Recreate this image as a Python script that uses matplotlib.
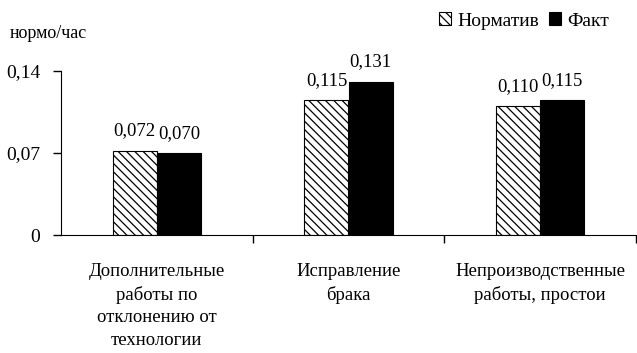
import matplotlib.pyplot as plt
import numpy as np

FONT = 'Liberation Serif'
plt.rcParams['font.family'] = [FONT, 'DejaVu Serif']
plt.rcParams['hatch.linewidth'] = 0.9

# data
categories = ['Дополнительные\nработы по\nотклонению от\nтехнологии',
              'Исправление\nбрака',
              'Непроизводственные\nработы, простои']
normativ = [0.072, 0.115, 0.110]
fakt = [0.070, 0.131, 0.115]
norm_labels = ['0,072', '0,115', '0,110']
fakt_labels = ['0,070', '0,131', '0,115']
series_names = ['Норматив', 'Факт']
y_ticks = [0, 0.07, 0.14]
y_tick_labels = ['0', '0,07', '0,14']

fig = plt.figure(figsize=(6.37, 3.53), dpi=100)
ax = fig.add_axes([61 / 637, 1 - 235 / 353, 575 / 637, 164 / 353])

x = np.arange(len(categories))
w = 0.23
b1 = ax.bar(x - w / 2, normativ, w, color='white', edgecolor='black',
            hatch='\\\\\\\\', linewidth=0.8, label=series_names[0])
b2 = ax.bar(x + w / 2, fakt, w, color='black', edgecolor='black',
            linewidth=0.8, label=series_names[1])

for xi, v, s in zip(x - w / 2, normativ, norm_labels):
    ax.annotate(s, (xi, v), xytext=(0, 8), textcoords='offset points',
                ha='center', va='bottom', fontsize=13.5, family=FONT)
for xi, v, s in zip(x + w / 2, fakt, fakt_labels):
    ax.annotate(s, (xi, v), xytext=(0, 8), textcoords='offset points',
                ha='center', va='bottom', fontsize=13.5, family=FONT)

ax.set_xlim(-0.5, 2.5)
ax.set_ylim(0, 0.14)
ax.set_yticks(y_ticks)
ax.set_yticklabels(y_tick_labels, family=FONT, fontsize=14)
ax.set_xticks([0.5, 1.5, 2.5])
ax.set_xticklabels(['', '', ''])
ax.tick_params(axis='x', direction='out', length=6, width=1)
ax.tick_params(axis='y', direction='out', length=6, width=1, pad=9)

for xi, c in zip(x, categories):
    ax.annotate(c, (xi, 0), xytext=(0, -20), textcoords='offset points',
                ha='center', va='top', fontsize=13.5, family=FONT,
                linespacing=1.42, annotation_clip=False)

ax.spines['top'].set_visible(False)
ax.spines['right'].set_visible(False)

fig.text(10 / 637, 1 - 33 / 353, 'нормо/час', fontsize=13, va='center',
         family=FONT)
fig.legend(handles=[b1, b2], loc='center right',
           bbox_to_anchor=(609 / 637, 1 - 21 / 353), ncol=2, frameon=False,
           prop={'family': FONT, 'size': 14}, handlelength=0.65,
           handleheight=0.65, handletextpad=0.3, columnspacing=0.5,
           borderaxespad=0, borderpad=0)

fig.savefig('out.png', dpi=100)
